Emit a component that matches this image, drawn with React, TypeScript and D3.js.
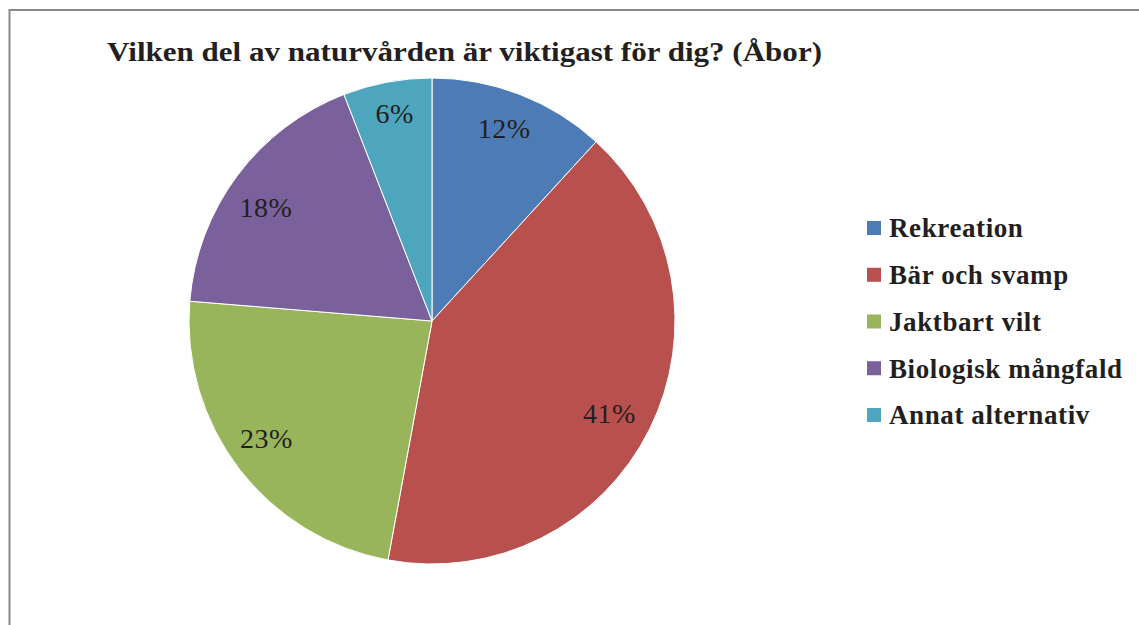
import React from "react";
import * as d3 from "d3";

const categories = ["Rekreation", "Bär och svamp", "Jaktbart vilt", "Biologisk mångfald", "Annat alternativ"];
const values = [11.8, 41.1, 23.4, 17.8, 5.9];
const labels = ["12%", "41%", "23%", "18%", "6%"];
const colors = ["#4C7BB5", "#B8504D", "#98B55B", "#7B619B", "#4EA6BE"];
const title = "Vilken del av naturvården är viktigast för dig? (Åbor)";

export default function App() {
  const W = 1139, H = 625;
  const cx = 432, cy = 321, r = 243;
  const pie = d3.pie<number>().sort(null).value((d) => d);
  const arcs = pie(values);
  const arc = d3.arc<d3.PieArcDatum<number>>().innerRadius(0).outerRadius(r);
  // label placement tweaks (radius, angle shift in degrees)
  const labelR = [206, 200, 203, 201, 211];
  const labelShift = [-0.7, 1, 2.1, -2.4, 0.4];
  const legendY = d3.scalePoint<number>().domain(d3.range(categories.length)).range([228, 415]);
  const serif = "'Liberation Serif', 'DejaVu Serif', serif";
  return (
    <svg width={W} height={H} style={{ position: "absolute", left: 0, top: 0, background: "#fff" }}>
      <rect x={9.5} y={10} width={1200} height={700} fill="#fff" stroke="#8a8a8a" strokeWidth={2} />
      <text x={107} y={61} fontFamily={serif} fontWeight="bold" fontSize={27} fill="#231f20"
        textLength={715} lengthAdjust="spacingAndGlyphs">{title}</text>
      <g transform={`translate(${cx},${cy})`}>
        {arcs.map((a, i) => (
          <path key={i} d={arc(a) || ""} fill={colors[i]} stroke="#fff" strokeWidth={1} />
        ))}
        {arcs.map((a, i) => {
          const mid = (a.startAngle + a.endAngle) / 2 + (labelShift[i] * Math.PI) / 180;
          const x = labelR[i] * Math.sin(mid);
          const y = -labelR[i] * Math.cos(mid);
          return (
            <text key={i} x={x} y={y} dy="0.35em" textAnchor="middle" fontFamily={serif}
              fontSize={28} letterSpacing={0.5} fill="#231f20">{labels[i]}</text>
          );
        })}
      </g>
      {categories.map((c, i) => (
        <g key={c} transform={`translate(867,${legendY(i)})`}>
          <rect x={0} y={-7} width={14} height={14} fill={colors[i]} />
          <text x={22} y={0} dy="0.35em" fontFamily={serif} fontWeight="bold" fontSize={27}
            letterSpacing={0.6} fill="#231f20">{c}</text>
        </g>
      ))}
    </svg>
  );
}
